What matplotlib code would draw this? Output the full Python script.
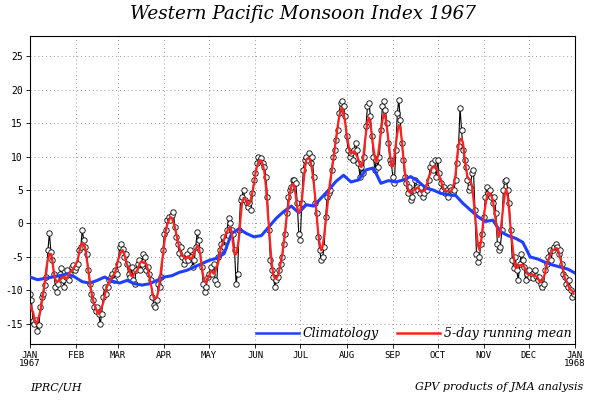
import numpy as np
import pandas as pd
import matplotlib
matplotlib.use("Agg")
import matplotlib.pyplot as plt
from matplotlib.lines import Line2D

# ---------------- data ----------------
jan = [-10.5, -11.5, -14.5, -15, -14.4, -16, -15.2, -12.5, -11, -10.5, -9.2, -8, -4, -1.4, -4.2,
       -5.5, -7.5, -9.5, -10.3, -9, -7.5, -6.6, -8.5, -9.5, -8, -7, -8.5, -7.5, -6.5, -6.2, -7]
feb = [-6.5, -6, -4, -3.5, -1, -2.5, -3.5, -4.5, -7, -9, -10.5, -11.5, -12.5, -13, -12.5, -13.5,
       -15, -13.5, -11, -9.5, -10.5, -9.5, -8.5, -8, -7.5, -8.5, -7, -7.5]
mar = [-6, -3.5, -3, -3.8, -5, -4.5, -6, -7.5, -8, -6.5, -8.5, -9, -7, -6, -5.5, -7, -6, -4.5,
       -5, -7, -6.5, -7.5, -8.5, -11, -12.2, -12.5, -11.5, -9, -9.5, -8, -4]
apr = [-1.5, -1, 0.5, 1, 0.5, 1.2, 1.7, -0.5, -2, -3, -4.4, -3.5, -5, -6, -5.5, -4.5, -5.5, -4,
       -5, -6.5, -5.5, -3.5, -1.2, -2.5, -4, -6.5, -9, -10.2, -9.5, -8]
may = [-7.5, -6.5, -7.5, -6, -8.5, -9, -5, -4, -3, -2, -3.5, -2.5, -1, 0.8, 0, -1, -1.5, -4, -9,
       -7.5, -1, 3.5, 4, 5, 3.5, 3, 2.5, 3, 2, 4.5, 6.5]
jun = [7.5, 9, 10, 9.5, 9.8, 9, 8.5, 7, 4, -1, -5.5, -7, -8, -9.5, -8.5, -8, -7, -6, -5, -3,
       -1.5, 1.5, 4, 5, 5.5, 6.5, 6.5, 6, 3, -1.5]
jul = [-2.5, 3, 8, 9.5, 10, 9.5, 10.5, 9, 10, 7, 3, 1.5, -2, -4, -5.5, -5, -3.5, 1, 4, 4.5, 5,
       8, 10, 11, 12.5, 14, 16.5, 18, 18.3, 17.5, 16]
aug = [13, 11, 10, 10.5, 9.5, 11, 12, 11, 9, 7, 8.5, 7.5, 10, 14.5, 17.5, 18, 16, 13, 10, 8,
       9.5, 8.5, 10, 14, 17.5, 18.3, 17, 15, 12, 9.5, 9]
sep = [7, 6, 11, 16.5, 18.5, 15.5, 12, 9.5, 7, 6, 4.5, 5.5, 3.5, 4, 5, 6.5, 5.5, 5, 4.5, 5.5, 4,
       4.5, 5.5, 5, 6.5, 8.5, 9, 8, 9.5, 7]
oct_ = [9.5, 7.5, 6, 5, 5.5, 4.5, 5, 4, 5.5, 5, 4.5, 5, 6.5, 9, 11.5, 17.3, 14, 11, 9.5, 8.5,
        6.5, 5, 5.5, 7.5, 8, 2, -4.5, -5.7, -5, -3, -1.5]
nov = [1, 4, 5.5, 4.5, 5, 4, 3, 4, 1.5, -3, -4, -3.5, -1, 5, 6.3, 6.5, 5, 3, -1, -5.5, -6.7, -5,
       -7, -8.5, -6, -4.5, -5.5, -6.5, -8.5, -7.5]
dec = [-7, -8, -7.5, -8.2, -7, -7.8, -8.5, -8, -9, -9.5, -9, -7, -6, -5, -4, -5.5, -4, -3.5, -3,
       -3.5, -4.5, -4, -6, -7.5, -8, -9, -9.5, -8.5, -10, -11, -10.5]

# climatology, read every 5 days (day 0, 5, ..., 365)
clim_days = list(range(0, 366, 5))
clim_vals = [-8, -8.4, -8.2, -8, -7.8, -7.5, -8, -8.7, -8.9, -8.5, -8, -8.6, -8.9, -8.5, -9,
             -9.2, -9, -8.5, -8, -7.8, -7.3, -7, -6.5, -6, -5.5, -5.2, -4.5, -1.5, -0.8, -1.5,
             -2, -1.8, -0.5, 0.8, 1.8, 2.6, 1.6, 2.8, 2.6, 3.8, 5, 6.3, 7.2, 6.2, 6.5, 8, 8.3,
             6.0, 6.4, 6.2, 6.5, 7, 6.3, 5.3, 5, 4.5, 4.3, 4.2, 3, 2, 1, 0.3, 0.5, -1.2, -1.8,
             -2.2, -2.8, -5, -5.3, -5.8, -6.2, -6.5, -6.8, -7.4]

month_labels = ["JAN\n1967", "FEB", "MAR", "APR", "MAY", "JUN", "JUL", "AUG", "SEP",
                "OCT", "NOV", "DEC", "JAN\n1968"]
month_starts = [0, 31, 59, 90, 120, 151, 181, 212, 243, 273, 304, 334, 365]
yticks = [-15, -10, -5, 0, 5, 10, 15, 20, 25]

daily = np.array(jan + feb + mar + apr + may + jun + jul + aug + sep + oct_ + nov + dec)
days = np.arange(len(daily))
running = pd.Series(daily).rolling(5, center=True, min_periods=3).mean().values

# ---------------- figure ----------------
fig = plt.figure(figsize=(6.05, 4.03), dpi=100)
ax = fig.add_axes([30 / 605, 1 - 344 / 403, 545 / 605, 308 / 403])

serif_it = dict(family="DejaVu Serif", style="italic")

ax.plot(days, daily, color="black", lw=0.8, marker="o", ms=3.9, mfc="white",
        mec="black", mew=0.6, zorder=2)
ax.plot(clim_days, clim_vals, color="#2040ff", lw=2.2, zorder=3)
ax.plot(days, running, color="#ff2020", lw=1.6, zorder=4)

ax.set_xlim(0, 365)
ax.set_ylim(-18, 28)
ax.set_yticks(yticks)
ax.set_yticklabels([str(v) for v in yticks], fontsize=7, family="DejaVu Sans Mono")
ax.set_xticks(month_starts)
ax.set_xticklabels(month_labels, fontsize=6.5, family="DejaVu Sans Mono", linespacing=0.9)
ax.tick_params(axis="both", direction="out", length=3, width=0.6, pad=2)
ax.grid(True, color="#999999", linestyle=(0, (1, 3)), lw=0.7)
for s in ax.spines.values():
    s.set_linewidth(0.8)

handles = [Line2D([], [], color="#2040ff", lw=1.8), Line2D([], [], color="#ff2020", lw=1.8)]
ax.legend(handles, ["Climatology", "5-day running mean"], loc="lower right",
          bbox_to_anchor=(1.0, 0.0), ncol=2, frameon=False, handlelength=3.4,
          handletextpad=0.3, columnspacing=1.5, borderaxespad=0.1, borderpad=0.2,
          prop=dict(family="DejaVu Serif", style="italic", size=9))

fig.text(0.5, 1 - 14 / 403, "Western Pacific Monsoon Index 1967", ha="center", va="center",
         fontsize=13.2, **serif_it)
fig.text(30 / 605, 1 - 387 / 403, "IPRC/UH", ha="left", va="center", fontsize=8, **serif_it)
fig.text(583 / 605, 1 - 387 / 403, "GPV products of JMA analysis", ha="right", va="center",
         fontsize=8, **serif_it)

fig.savefig("out.png", dpi=100)
